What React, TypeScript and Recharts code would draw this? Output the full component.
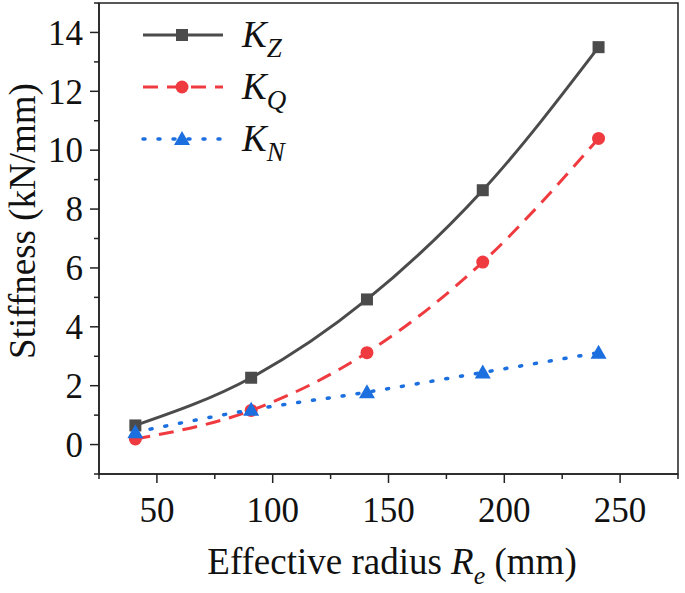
import React from 'react'
import { LineChart, Line, XAxis, YAxis, ReferenceArea } from 'recharts'

document.body.style.margin = '0'

const RADIUS = [40.7, 90.7, 140.7, 190.7, 240.7]
const K_Z = [0.65, 2.27, 4.93, 8.64, 13.5]
const K_Q = [0.19, 1.16, 3.12, 6.2, 10.4]
const K_N = [0.42, 1.18, 1.78, 2.45, 3.12]

const X_TICKS = [25, 50, 75, 100, 125, 150, 175, 200, 225, 250, 275]
const X_MAJOR = [50, 100, 150, 200, 250]
const Y_TICKS = [-1, 0, 1, 2, 3, 4, 5, 6, 7, 8, 9, 10, 11, 12, 13, 14, 15]
const Y_MAJOR = [0, 2, 4, 6, 8, 10, 12, 14]

const data = RADIUS.map((r, i) => ({ r, kz: K_Z[i], kq: K_Q[i], kn: K_N[i] }))

const AXIS = '#222'
const FONT = 'Liberation Serif, Tinos, DejaVu Serif, serif'
const GRAY = '#4b4b4b'
const RED = '#ef3b40'
const BLUE = '#1b6fdf'

const Square = ({ cx, cy }: any) => <rect x={cx - 6} y={cy - 6} width={12} height={12} fill={GRAY} />
const Circle = ({ cx, cy }: any) => <circle cx={cx} cy={cy} r={6.5} fill={RED} />
const Triangle = ({ cx, cy }: any) => (
  <polygon points={`${cx},${cy - 8} ${cx - 8},${cy + 6} ${cx + 8},${cy + 6}`} fill={BLUE} />
)

const SERIES = [
  { key: 'kz', sub: 'Z', color: GRAY, dash: undefined, cap: 'butt', width: 3, Marker: Square },
  { key: 'kq', sub: 'Q', color: RED, dash: '15 9', cap: 'butt', width: 3, Marker: Circle },
  { key: 'kn', sub: 'N', color: BLUE, dash: '2 13', cap: 'round', width: 3.5, Marker: Triangle },
]

const XTick = ({ x, y, payload }: any) => {
  const major = X_MAJOR.includes(payload.value)
  return (
    <g>
      <line x1={x} x2={x} y1={y} y2={y + (major ? 9 : 5)} stroke={AXIS} strokeWidth={1.5} />
      {major && (
        <text x={x} y={y + 48} textAnchor="middle" fontSize={35} fontFamily={FONT} fill="#111">
          {payload.value}
        </text>
      )}
    </g>
  )
}

const YTick = ({ x, y, payload }: any) => {
  const major = Y_MAJOR.includes(payload.value)
  return (
    <g>
      <line x1={x - (major ? 9 : 5)} x2={x} y1={y} y2={y} stroke={AXIS} strokeWidth={1.5} />
      {major && (
        <text x={x - 16} y={y} dy="0.35em" textAnchor="end" fontSize={35} fontFamily={FONT} fill="#111">
          {payload.value}
        </text>
      )}
    </g>
  )
}

function LegendBox() {
  return (
    <svg width={200} height={170} style={{ position: 'absolute', left: 130, top: 0 }}>
      {SERIES.map((s, i) => {
        const y = 35 + i * 52
        const M = s.Marker
        return (
          <g key={s.key}>
            <line x1={13} x2={93} y1={y} y2={y} stroke={s.color} strokeWidth={s.width}
              strokeDasharray={s.dash} strokeLinecap={s.cap as any} />
            <M cx={52} cy={y} />
            <text x={112} y={y + 12} fontSize={37} fontStyle="italic" fontFamily={FONT} fill="#111">
              K<tspan fontSize={27} dy={10}>{s.sub}</tspan>
            </text>
          </g>
        )
      })}
    </svg>
  )
}

export default function App() {
  return (
    <div style={{ position: 'relative', width: 685, height: 593, background: '#fff' }}>
      <LineChart width={685} height={593} data={data} margin={{ top: 3, right: 7, left: 0, bottom: 0 }}>
        <XAxis
          dataKey="r"
          type="number"
          domain={[25, 275]}
          ticks={X_TICKS}
          interval={0}
          tickSize={0}
          tickMargin={0}
          tick={<XTick />}
          height={119}
          stroke={AXIS}
          strokeWidth={1.5}
          label={{
            content: () => (
              <text x={392} y={574} textAnchor="middle" fontSize={37} fontFamily={FONT} fill="#111">
                Effective radius <tspan fontStyle="italic">R</tspan>
                <tspan fontStyle="italic" fontSize={26} dy={10}>e</tspan>
                <tspan dy={-10}> (mm)</tspan>
              </text>
            ),
          }}
        />
        <YAxis
          type="number"
          domain={[-1, 15]}
          ticks={Y_TICKS}
          interval={0}
          tickSize={0}
          tickMargin={0}
          tick={<YTick />}
          width={99}
          stroke={AXIS}
          strokeWidth={1.5}
          label={{
            content: () => (
              <text x={22} y={221} transform="rotate(-90 22 221)" dy="0.35em" textAnchor="middle"
                fontSize={37} fontFamily={FONT} fill="#111">
                Stiffness (kN/mm)
              </text>
            ),
          }}
        />
        <ReferenceArea x1={25} x2={275} y1={-1} y2={15} fill="none" fillOpacity={0}
          stroke={AXIS} strokeWidth={1.5} />
        {SERIES.map((s) => (
          <Line
            key={s.key}
            dataKey={s.key}
            type="monotone"
            stroke={s.color}
            strokeWidth={s.width}
            strokeDasharray={s.dash}
            strokeLinecap={s.cap as any}
            dot={<s.Marker />}
            activeDot={false}
            isAnimationActive={false}
          />
        ))}
      </LineChart>
      <LegendBox />
    </div>
  )
}
